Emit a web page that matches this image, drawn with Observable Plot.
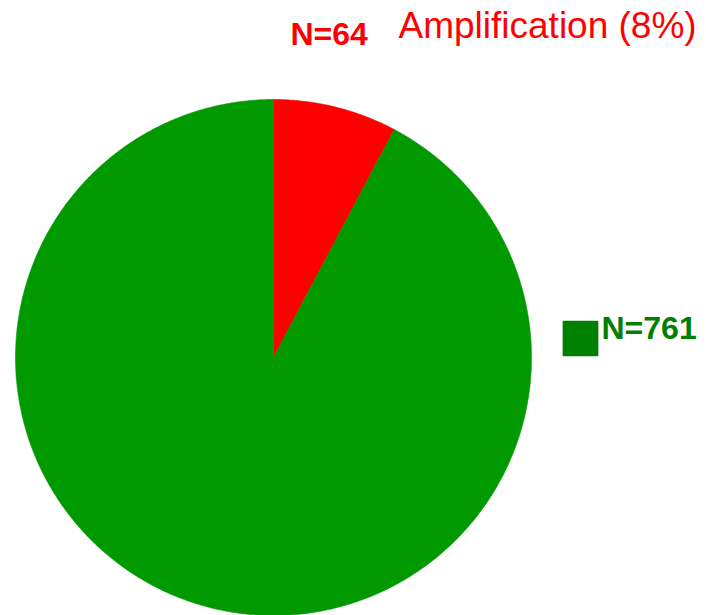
<!DOCTYPE html>
<html>
<head>
<meta charset="utf-8">
<script src="https://cdn.jsdelivr.net/npm/d3@7"></script>
<script src="https://cdn.jsdelivr.net/npm/@observablehq/plot@0.6"></script>
<style>
  html, body { margin: 0; padding: 0; background: #fff; }
</style>
</head>
<body>
<div id="chart"></div>
<script>
const categories = ["Amplification", "No amplification"];
const counts = [64, 761];
const countLabels = ["N=64", "N=761"];
const colors = ["#ff0000", "#009900"];
const titleLabel = "Amplification (8%)";

// Slice angles from d3.pie (clockwise from 12 o'clock), sampled into polygons
const arcs = d3.pie().sort(null).value(d => d.value)(
  categories.map((c, i) => ({key: c, value: counts[i]}))
);
const pts = [];
for (const a of arcs) {
  const key = a.data.key;
  pts.push({key, x: 0, y: 0});
  const n = Math.max(2, Math.ceil((a.endAngle - a.startAngle) / (Math.PI / 360)));
  for (let k = 0; k <= n; k++) {
    const t = a.startAngle + (a.endAngle - a.startAngle) * k / n;
    pts.push({key, x: Math.sin(t), y: Math.cos(t)});
  }
  pts.push({key, x: 0, y: 0});
}

const W = 706, H = 615;
const cx = 273, cy = 357, R = 258;

const chart = Plot.plot({
  width: W,
  height: H,
  margin: 0,
  x: {domain: [-1, 1], range: [cx - R, cx + R], axis: null},
  y: {domain: [-1, 1], range: [cy + R, cy - R], axis: null},
  color: {domain: categories, range: colors},
  style: {background: "#fff", overflow: "visible"},
  marks: [
    Plot.line(pts, {x: "x", y: "y", z: "key", fill: "key", stroke: "key", strokeWidth: 0.6, curve: "linear"}),
    Plot.text([countLabels[0]], {
      text: d => d, frameAnchor: "top-left", dx: 290, dy: 22,
      textAnchor: "start", lineAnchor: "top",
      fontFamily: "Liberation Sans, Arial, sans-serif", fontWeight: "bold", fontSize: 32, fill: colors[0]
    }),
    Plot.text([titleLabel], {
      text: d => d, frameAnchor: "top-left", dx: 398, dy: 11,
      textAnchor: "start", lineAnchor: "top",
      fontFamily: "Liberation Sans, Arial, sans-serif", fontSize: 37, fill: colors[0]
    }),
    Plot.dot([countLabels[1]], {
      frameAnchor: "top-left", dx: 580, dy: 338, symbol: "square", r: 19.3,
      fill: "#008000", stroke: "#008000", strokeWidth: 1.5, strokeLinejoin: "round"
    }),
    Plot.text([countLabels[1]], {
      text: d => d, frameAnchor: "top-left", dx: 601, dy: 316,
      textAnchor: "start", lineAnchor: "top",
      fontFamily: "Liberation Sans, Arial, sans-serif", fontWeight: "bold", fontSize: 32, fill: "#008000"
    })
  ]
});
document.getElementById("chart").appendChild(chart);
</script>
</body>
</html>
